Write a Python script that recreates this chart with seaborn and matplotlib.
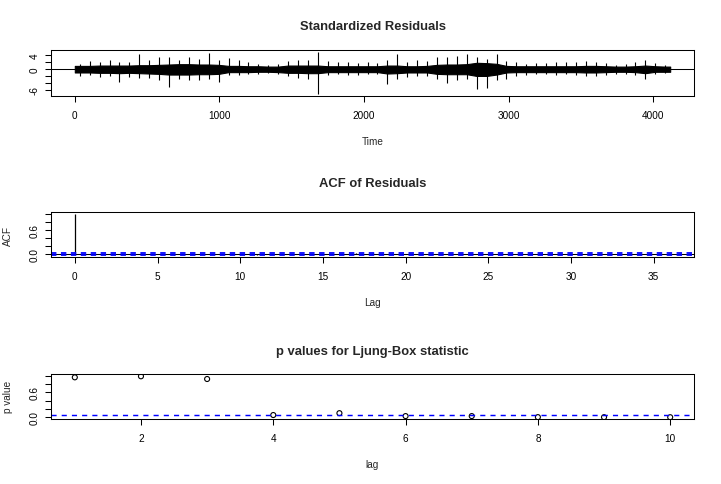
import numpy as np
import pandas as pd
import matplotlib
matplotlib.use("Agg")
import matplotlib.pyplot as plt
import seaborn as sns

# ---------------- data ----------------
n_obs = 4118
# standardized residuals: per-bin (60 bins) peak and core envelopes
res_hi = [1.5, 2.3, 2.0, 2.7, 2.0, 2.0, 4.2, 2.5, 3.5, 3.5,
          2.5, 3.4, 3.0, 4.6, 2.5, 3.1, 2.5, 2.0, 1.5, 1.3,
          1.5, 2.3, 2.7, 2.7, 5.0, 2.3, 2.0, 2.0, 1.7, 2.0,
          1.7, 2.5, 4.2, 2.0, 2.5, 2.3, 3.4, 3.4, 3.9, 4.4,
          3.6, 3.0, 4.2, 2.3, 2.0, 1.5, 1.7, 1.7, 2.0, 2.0,
          2.0, 2.3, 2.0, 1.7, 1.3, 1.5, 2.0, 2.5, 1.7, 1.3]
res_lo = [-2.1, -1.8, -2.3, -2.1, -3.7, -2.3, -2.5, -2.7, -3.2, -5.2,
          -2.8, -3.2, -3.3, -3.0, -3.8, -1.8, -1.8, -1.5, -1.3, -1.1,
          -1.3, -2.1, -2.5, -3.0, -7.3, -1.8, -1.5, -1.8, -1.8, -1.5,
          -1.5, -4.3, -3.0, -2.3, -2.1, -2.1, -2.8, -4.0, -3.2, -2.8,
          -5.8, -5.6, -3.2, -2.8, -2.1, -1.8, -1.5, -1.5, -1.8, -1.5,
          -1.8, -2.1, -2.1, -1.8, -1.3, -1.5, -1.8, -2.8, -1.5, -1.1]
core_hi = [0.9, 0.9, 1.0, 1.0, 1.0, 1.0, 1.1, 1.1, 1.2, 1.3,
           1.4, 1.4, 1.3, 1.3, 1.2, 0.9, 0.9, 0.8, 0.8, 0.7,
           0.7, 1.0, 1.0, 1.0, 1.0, 0.8, 0.8, 0.8, 0.8, 0.8,
           0.8, 1.0, 1.0, 0.8, 0.8, 0.9, 1.2, 1.3, 1.3, 1.4,
           1.8, 1.7, 1.5, 0.9, 0.8, 0.8, 0.8, 0.8, 0.8, 0.8,
           0.8, 0.9, 0.9, 0.8, 0.7, 0.7, 0.8, 1.0, 0.8, 0.7]
core_lo = [-1.0, -1.0, -1.1, -1.1, -1.2, -1.1, -1.2, -1.3, -1.4, -1.6,
           -1.6, -1.6, -1.5, -1.5, -1.4, -0.9, -0.9, -0.9, -0.8, -0.8,
           -0.9, -1.1, -1.1, -1.2, -1.2, -0.9, -0.9, -0.9, -0.9, -0.9,
           -0.9, -1.3, -1.2, -1.0, -1.0, -1.0, -1.4, -1.5, -1.5, -1.5,
           -2.0, -2.0, -1.6, -1.0, -0.9, -0.9, -0.9, -0.9, -0.9, -0.9,
           -0.9, -1.0, -1.0, -0.9, -0.8, -0.8, -0.9, -1.2, -0.8, -0.8]

# ACF of residuals, lags 0..36
acf_lags = list(range(37))
acf_vals = [1.0, 0.008, -0.005, 0.004, 0.028, -0.006, -0.018, 0.005, -0.004, 0.006,
            -0.003, -0.012, 0.004, 0.006, -0.005, 0.003, 0.007, 0.027, 0.018, -0.004,
            0.005, -0.006, 0.003, 0.004, -0.005, 0.006, 0.01, -0.004, 0.003, 0.005,
            -0.004, 0.003, -0.005, 0.004, 0.003, -0.003, 0.004]
conf_lim = 1.96 / np.sqrt(n_obs)

# Ljung-Box p values, lags 1..10
lb_lags = list(range(1, 11))
lb_pvals = [0.96, 0.985, 0.92, 0.055, 0.10, 0.03, 0.03, 0.005, 0.004, 0.003]

# ---------------- style ----------------
sns.set_style("ticks")
plt.rcParams["font.family"] = ["Liberation Sans", "DejaVu Sans"]
plt.rcParams["axes.linewidth"] = 0.75
plt.rcParams["xtick.major.width"] = 0.75
plt.rcParams["ytick.major.width"] = 0.75
plt.rcParams["xtick.major.size"] = 4.3
plt.rcParams["ytick.major.size"] = 4.3
plt.rcParams["xtick.major.pad"] = 6
plt.rcParams["ytick.major.pad"] = 4
plt.rcParams["xtick.color"] = "black"
plt.rcParams["ytick.color"] = "black"
plt.rcParams["axes.edgecolor"] = "black"

W, H = 721, 485
fig = plt.figure(figsize=(W / 100, H / 100), dpi=100)
FS = 7.2      # 10 px
TFS = 9.36    # 13 px


def box(top_px, bottom_px):
    return [51 / W, 1 - bottom_px / H, (694 - 51) / W, (bottom_px - top_px) / H]


def fmt(ax):
    for s in ax.spines.values():
        s.set_visible(True)
        s.set_color("black")
    ax.tick_params(labelsize=FS, colors="black")
    for lab in ax.get_yticklabels():
        lab.set_rotation(90)
        lab.set_va("center")


# ---------- panel 1 : standardized residuals ----------
ax1 = fig.add_axes(box(51, 97))
edges = np.linspace(1, n_obs, len(res_hi) + 1)
centers = (edges[:-1] + edges[1:]) / 2
xc = np.concatenate([[edges[0]], centers, [edges[-1]]])
chi = np.concatenate([[core_hi[0]], core_hi, [core_hi[-1]]])
clo = np.concatenate([[core_lo[0]], core_lo, [core_lo[-1]]])
ax1.fill_between(xc, clo, chi, color="black", lw=0.8)
ax1.vlines(centers, res_lo, res_hi, color="black", lw=0.8)
ax1.axhline(0, color="black", lw=0.75)
xr = (1, n_obs)
ext = 0.04 * (xr[1] - xr[0])
ax1.set_xlim(xr[0] - ext, xr[1] + ext)
yr = (min(res_lo), max(res_hi))
eyt = 0.04 * (yr[1] - yr[0])
ax1.set_ylim(yr[0] - eyt, yr[1] + eyt)
ax1.set_xticks([0, 1000, 2000, 3000, 4000])
ax1.set_xticklabels(["0", "1000", "2000", "3000", "4000"])
ax1.set_yticks([-6, -4, -2, 0, 2, 4])
ax1.set_yticklabels(["-6", "", "", "0", "", "4"])
fmt(ax1)

# ---------- panel 2 : ACF ----------
ax2 = fig.add_axes(box(213, 258))
ax2.vlines(acf_lags, 0, acf_vals, color="black", lw=0.9)
ax2.axhline(0, color="black", lw=0.75)
for c in (conf_lim, -conf_lim):
    ax2.axhline(c, color="#0000ff", lw=1.3, linestyle=(0, (3, 2.5)))
ax2.set_xlim(-0.04 * 36, 36 * 1.04)
lo2 = min(min(acf_vals), -conf_lim)
hi2 = max(max(acf_vals), conf_lim)
e2 = 0.04 * (hi2 - lo2)
ax2.set_ylim(lo2 - e2, hi2 + e2)
ax2.set_xticks([0, 5, 10, 15, 20, 25, 30, 35])
ax2.set_yticks([0, 0.2, 0.4, 0.6, 0.8, 1.0])
ax2.set_yticklabels(["0.0", "", "", "0.6", "", ""])
fmt(ax2)

# ---------- panel 3 : Ljung-Box p values ----------
ax3 = fig.add_axes(box(375, 420))
df_lb = pd.DataFrame({"lag": lb_lags, "p": lb_pvals})
sns.scatterplot(data=df_lb, x="lag", y="p", ax=ax3, marker="o", s=13,
                facecolors="none", edgecolor="black", linewidth=0.8, legend=False)
ax3.axhline(0.05, color="#0000ff", lw=1.05, linestyle=(0, (3.5, 3.5)))
ax3.set_xlim(1 - 0.36, 10 + 0.36)
ax3.set_ylim(-0.04, 1.04)
ax3.set_xticks([2, 4, 6, 8, 10])
ax3.set_yticks([0, 0.2, 0.4, 0.6, 0.8, 1.0])
ax3.set_yticklabels(["0.0", "", "", "0.6", "", ""])
ax3.set_xlabel("")
ax3.set_ylabel("")
fmt(ax3)

# ---------- titles / labels ----------


def ftext(x_px, y_px, s, **kw):
    fig.text(x_px / W, 1 - y_px / H, s, ha="center", va="center", **kw)


ftext(372.5, 27, "Standardized Residuals", fontsize=TFS, fontweight="bold")
ftext(372.5, 142, "Time", fontsize=FS)
ftext(372.5, 184, "ACF of Residuals", fontsize=TFS, fontweight="bold")
ftext(372.5, 303, "Lag", fontsize=FS)
ftext(8, 236, "ACF", fontsize=FS, rotation=90)
ftext(372.5, 352, "p values for Ljung-Box statistic", fontsize=TFS, fontweight="bold")
ftext(372.5, 465, "lag", fontsize=FS)
ftext(8, 397, "p value", fontsize=FS, rotation=90)

fig.savefig("out.png", dpi=100, facecolor="white")
